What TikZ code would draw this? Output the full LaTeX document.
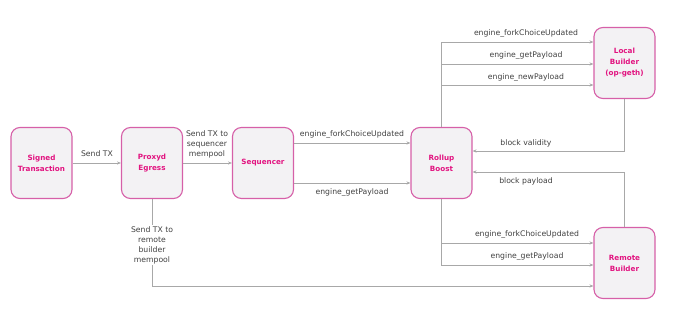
\documentclass[tikz,border=0pt]{standalone}
\usepackage{fontspec}
\setmainfont{DejaVu Sans}
\usepackage{xcolor}
\usetikzlibrary{arrows.meta, positioning}
\definecolor{rbpink}{RGB}{214,96,168}
\definecolor{rbmag}{RGB}{226,20,128}
\definecolor{rbfill}{RGB}{243,242,244}
\definecolor{rbline}{RGB}{168,168,168}
\definecolor{rbtext}{RGB}{64,64,64}
\tikzset{
  blk/.style={draw=rbpink, line width=1.1pt, fill=rbfill, rounded corners=9pt,
    minimum width=61pt, minimum height=71pt, inner sep=2pt, align=center,
    text=rbmag, font=\fontsize{7.2}{11}\selectfont\bfseries},
  flow/.style={-{Stealth[length=4pt, width=3.2pt]}, draw=rbline, line width=0.8pt},
  link/.style={draw=rbline, line width=0.8pt},
  lbl/.style={font=\fontsize{7.7}{10}\selectfont, text=rbtext, align=center, inner sep=1pt},
}
\begin{document}
\begin{tikzpicture}[x=1pt, y=-1pt]
      \useasboundingbox (0,0) rectangle (680,312);
      % blocks
      \node[blk] (sig) at (41.5,163) {Signed\\Transaction};
      \node[blk] (pxy) at (152,163) {Proxyd\\Egress};
      \node[blk] (seq) at (263,163) {Sequencer};
      \node[blk] (rb) at (441.5,163) {Rollup\\Boost};
      \node[blk] (lb) at (624.5,63) {Local\\Builder\\(op-geth)};
      \node[blk] (rmb) at (624.5,263) {Remote\\Builder};
      % tx path
      \draw[flow] (sig) -- (pxy);
      \node[lbl] at (97,154) {Send TX};
      \draw[flow] (pxy) -- (seq);
      \node[lbl] at (207,144) {Send TX to\\sequencer\\mempool};
      \node[lbl] (mtx) at (152,245) {Send TX to\\remote\\builder\\mempool};
      \draw[link] (pxy.south) -- (mtx.north);
      \draw[flow] (mtx.south) |- ([yshift=-23pt]rmb.west);
      % sequencer to rollup boost
      \draw[flow] ([yshift=20pt]seq.east) -- ([yshift=20pt]rb.west);
      \node[lbl] at (352,134) {engine\_forkChoiceUpdated};
      \draw[flow] ([yshift=-20pt]seq.east) -- ([yshift=-20pt]rb.west);
      \node[lbl] at (352,192) {engine\_getPayload};
      % local builder
      \draw[flow] (rb.north) |- ([yshift=21pt]lb.west);
      \draw[flow] (rb.north) |- ([yshift=-1pt]lb.west);
      \draw[flow] (rb.north) |- ([yshift=-22pt]lb.west);
      \node[lbl] at (526,33) {engine\_forkChoiceUpdated};
      \node[lbl] at (526,55) {engine\_getPayload};
      \node[lbl] at (526,77) {engine\_newPayload};
      \draw[flow] (lb.south) |- ([yshift=12pt]rb.east);
      \node[lbl] at (526,143) {block validity};
      % remote builder
      \draw[flow] (rmb.north) |- ([yshift=-9pt]rb.east);
      \node[lbl] at (526,181) {block payload};
      \draw[flow] (rb.south) |- ([yshift=20pt]rmb.west);
      \draw[flow] (rb.south) |- ([yshift=-2pt]rmb.west);
      \node[lbl] at (527,234) {engine\_forkChoiceUpdated};
      \node[lbl] at (527,256) {engine\_getPayload};
    \end{tikzpicture}
\end{document}
